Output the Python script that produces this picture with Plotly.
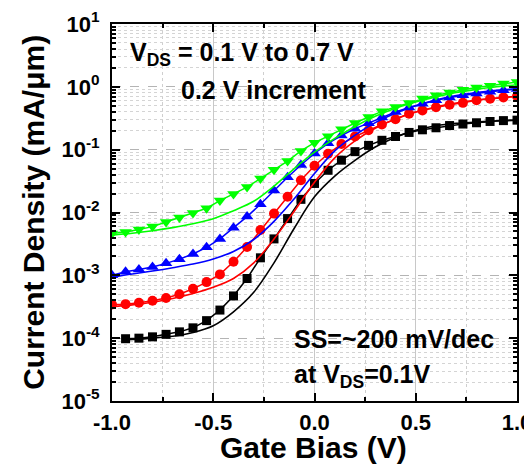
import plotly.graph_objects as go

# ---------------- data ----------------
# measured points (markers), gate bias in V
vg_meas = [-1.0, -0.933, -0.867, -0.8, -0.733, -0.667, -0.6, -0.533, -0.467, -0.4,
           -0.333, -0.267, -0.2, -0.133, -0.067, 0.0, 0.067, 0.133, 0.2, 0.267,
           0.333, 0.4, 0.467, 0.533, 0.6, 0.667, 0.733, 0.8, 0.867, 0.933, 1.0]

vg_meas_01 = vg_meas[1:]
id_meas_01 = [9.8e-5, 1.0e-4, 1.05e-4, 1.15e-4, 1.26e-4, 1.46e-4, 1.9e-4, 2.8e-4, 4.7e-4, 8.9e-4,
              1.9e-3, 3.8e-3, 8.0e-3, 1.62e-2, 2.9e-2, 4.7e-2, 6.8e-2, 9.3e-2, 0.117, 0.141,
              0.162, 0.188, 0.207, 0.223, 0.242, 0.256, 0.268, 0.281, 0.29, 0.295]
id_meas_03 = [3.44e-4, 3.48e-4, 3.66e-4, 3.94e-4, 4.37e-4, 5.0e-4, 6.1e-4, 7.8e-4, 1.035e-3, 1.64e-3,
              2.82e-3, 5.25e-3, 9.6e-3, 1.78e-2, 3.26e-2, 5.56e-2, 8.6e-2, 0.123, 0.162, 0.204,
              0.251, 0.305, 0.372, 0.422, 0.473, 0.519, 0.556, 0.61, 0.646, 0.679, 0.708]
id_meas_05 = [1.0e-3, 1.14e-3, 1.24e-3, 1.36e-3, 1.55e-3, 1.81e-3, 2.19e-3, 2.79e-3, 3.8e-3, 5.7e-3,
              8.6e-3, 1.35e-2, 2.23e-2, 3.63e-2, 5.69e-2, 8.7e-2, 0.126, 0.168, 0.216, 0.263,
              0.324, 0.398, 0.468, 0.537, 0.61, 0.676, 0.733, 0.785, 0.832, 0.881, 0.923]
id_meas_07 = [4.63e-3, 4.9e-3, 5.37e-3, 5.96e-3, 7.08e-3, 8.3e-3, 9.86e-3, 1.17e-2, 1.55e-2, 1.97e-2,
              2.54e-2, 3.47e-2, 4.79e-2, 6.6e-2, 9.55e-2, 0.129, 0.164, 0.211, 0.266, 0.331,
              0.407, 0.479, 0.553, 0.65, 0.733, 0.809, 0.9, 0.973, 1.045, 1.125, 1.19]

# simulation (solid lines)
vg_sim = [-1.0, -0.9, -0.8, -0.7, -0.6, -0.5, -0.4, -0.3, -0.2, -0.1, 0.0,
          0.1, 0.2, 0.3, 0.4, 0.5, 0.6, 0.7, 0.8, 0.9, 1.0]
vg_sim_01 = [-0.95] + vg_sim[1:]
id_sim_01 = [9.3e-5, 9.5e-5, 1.0e-4, 1.07e-4, 1.23e-4, 1.58e-4, 2.63e-4, 5.37e-4, 1.58e-3, 5.62e-3,
             1.78e-2, 3.8e-2, 6.76e-2, 0.110, 0.158, 0.204, 0.240, 0.263, 0.275, 0.288, 0.295]
id_sim_03 = [3.16e-4, 3.39e-4, 3.72e-4, 4.27e-4, 5.13e-4, 6.46e-4, 8.91e-4, 1.58e-3, 3.8e-3, 1.05e-2,
             3.02e-2, 7.41e-2, 0.138, 0.219, 0.309, 0.398, 0.479, 0.55, 0.617, 0.661, 0.70]
id_sim_05 = [9.3e-4, 1.05e-3, 1.17e-3, 1.32e-3, 1.51e-3, 1.82e-3, 2.4e-3, 3.72e-3, 7.24e-3, 1.66e-2,
             4.17e-2, 9.55e-2, 0.17, 0.269, 0.38, 0.501, 0.617, 0.724, 0.813, 0.881, 0.933]
id_sim_07 = [4.37e-3, 4.68e-3, 5.13e-3, 5.75e-3, 6.61e-3, 7.94e-3, 1.07e-2, 1.51e-2, 2.63e-2, 5.01e-2,
             9.12e-2, 0.151, 0.234, 0.339, 0.457, 0.575, 0.692, 0.813, 0.912, 1.0, 1.08]

x_ticks = [-1.0, -0.5, 0.0, 0.5, 1.0]
x_ticktext = ["-1.0", "-0.5", "0.0", "0.5", "1.0"]
x_minor = [-0.75, -0.25, 0.25, 0.75]
y_ticks = [1e-5, 1e-4, 1e-3, 1e-2, 1e-1, 1e0, 1e1]
y_ticktext = ["10<sup>-5</sup>", "10<sup>-4</sup>", "10<sup>-3</sup>", "10<sup>-2</sup>",
              "10<sup>-1</sup>", "10<sup>0</sup>", "10<sup>1</sup>"]
y_minor = [m * d for d in [1e-5, 1e-4, 1e-3, 1e-2, 1e-1, 1e0] for m in range(2, 10)]

FONT = "Liberation Sans, Arial, sans-serif"

series = [
    (vg_meas_01, id_meas_01, vg_sim_01, id_sim_01, "#000000", "square", 9),
    (vg_meas, id_meas_03, vg_sim, id_sim_03, "#ff0000", "circle", 10),
    (vg_meas, id_meas_05, vg_sim, id_sim_05, "#0000ff", "triangle-up", 11),
    (vg_meas, id_meas_07, vg_sim, id_sim_07, "#00ff00", "triangle-down", 11),
]

fig = go.Figure()
for xm, ym, xs, ys, col, sym, sz in series:
    fig.add_trace(go.Scatter(x=xs, y=ys, mode="lines", line=dict(color=col, width=1.6, shape="spline"),
                             showlegend=False, hoverinfo="skip"))
    fig.add_trace(go.Scatter(x=xm, y=ym, mode="lines+markers", line=dict(color=col, width=1.5),
                             marker=dict(symbol=sym, size=sz, color=col, line=dict(width=0)),
                             showlegend=False, cliponaxis=True))

# page body has an 8px margin: figure is drawn at (8, 8)
OFF = 8
W, H = 532 - OFF, 469 - OFF
PL, PR, PT, PB = 111.5, 517, 23.5, 401   # plot area in window pixels
L, R, T, B = PL - OFF, W - (PR - OFF), PT - OFF, H - (PB - OFF)
fig.update_layout(
    width=W, height=H,
    margin=dict(l=L, r=R, t=T, b=B, autoexpand=False),
    paper_bgcolor="white", plot_bgcolor="white",
    font=dict(family=FONT, color="black"),
    showlegend=False,
)
fig.update_xaxes(
    range=[-1, 1], tickmode="array", tickvals=x_ticks, ticktext=x_ticktext, automargin=False,
    ticks="inside", ticklen=8, tickwidth=2, tickcolor="black", ticklabeloverflow="allow",
    showline=True, linewidth=2, linecolor="black", mirror="allticks",
    showgrid=True, gridcolor="#c8c8c8", gridwidth=1, zeroline=False,
    tickfont=dict(size=22, family=FONT, weight="bold"), ticklabelstandoff=1,
    minor=dict(tickmode="array", tickvals=x_minor, ticks="inside", ticklen=4, tickwidth=1.5,
               tickcolor="black", showgrid=True, gridcolor="#cfcfcf", griddash="dot", gridwidth=1),
)
fig.update_yaxes(
    type="log", range=[-5, 1], tickmode="array", tickvals=y_ticks, ticktext=y_ticktext, automargin=False,
    ticks="inside", ticklen=8, tickwidth=2, tickcolor="black",
    showline=True, linewidth=2, linecolor="black", mirror="allticks",
    showgrid=True, gridcolor="#b4b4b4", gridwidth=1, griddash="dash", zeroline=False,
    tickfont=dict(size=22, family=FONT, weight="bold"), ticklabelstandoff=6,
    minor=dict(tickmode="array", tickvals=y_minor, ticks="inside", ticklen=4, tickwidth=1.5,
               tickcolor="black", showgrid=True, gridcolor="#d4d4d4", griddash="dot", gridwidth=1),
)

def px2paper_x(px):
    return (px - PL) / (PR - PL)

def px2paper_y(py):
    return (PB - py) / (PB - PT)

ann_font = dict(family=FONT, size=25, color="black", weight="bold")
annotations = [
    dict(text="V<sub>DS</sub> = 0.1 V to 0.7 V", x=px2paper_x(128), y=px2paper_y(54),
         xanchor="left", yanchor="middle", font=ann_font),
    dict(text="0.2 V increment", x=px2paper_x(179), y=px2paper_y(90),
         xanchor="left", yanchor="middle", font=ann_font),
    dict(text="SS=~200 mV/dec", x=px2paper_x(292), y=px2paper_y(339),
         xanchor="left", yanchor="middle", font=ann_font),
    dict(text="at V<sub>DS</sub>=0.1V", x=px2paper_x(292), y=px2paper_y(376),
         xanchor="left", yanchor="middle", font=ann_font),
    dict(text="Gate Bias (V)", x=px2paper_x(313), y=px2paper_y(448),
         xanchor="center", yanchor="middle", font=dict(family=FONT, size=30, color="black", weight="bold")),
    dict(text="Current Density (mA/\u03bcm)", x=px2paper_x(33), y=px2paper_y(212), textangle=-90,
         xanchor="center", yanchor="middle", font=dict(family=FONT, size=30, color="black", weight="bold")),
]
for a in annotations:
    a.update(xref="paper", yref="paper", showarrow=False)
fig.update_layout(annotations=annotations)

fig.write_html("out.html")
